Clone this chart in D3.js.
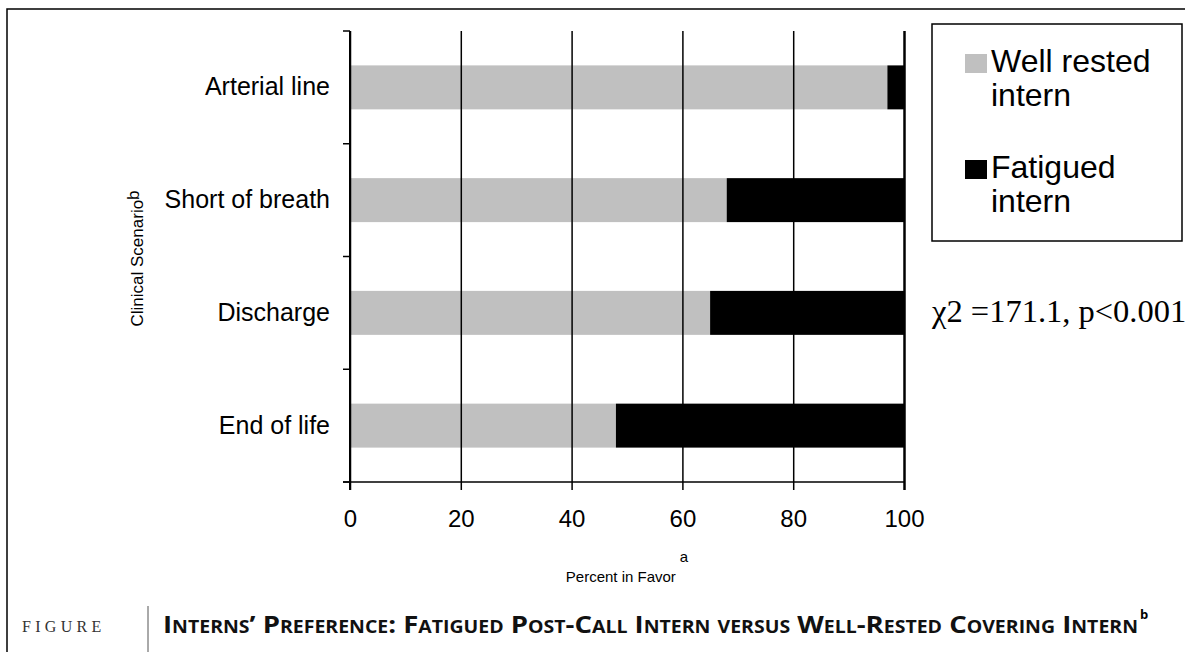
<!DOCTYPE html>
<html>
<head>
<meta charset="utf-8">
<script src="https://cdn.jsdelivr.net/npm/d3@7"></script>
<style>
  body { margin: 0; background: #fff; }
  svg { display: block; }
  .axis text { font-family: Arial, "Liberation Sans", sans-serif; fill: #000; }
</style>
</head>
<body>
<div id="chart"></div>
<script>
/**
 * DATA
 * */
const scenarios = ["Arterial line", "Short of breath", "Discharge", "End of life"];
const wellRested = [97, 68, 65, 48];
const fatigued = [3, 32, 35, 52];
const seriesNames = ["Well rested", "Fatigued"];
const xTicks = [0, 20, 40, 60, 80, 100];

/**
 * CONSTANTS
 * */
const width = 1185,
  height = 652,
  margin = { top: 31, left: 350, right: 281, bottom: 170 },
  colors = { "Well rested": "#c0c0c0", "Fatigued": "#000000" };

const svg = d3.select("#chart")
  .append("svg")
  .attr("width", width)
  .attr("height", height);

// outer frame (top and left only)
svg.append("path")
  .attr("d", `M7,${height} L7,9 L${width},9`)
  .attr("fill", "none")
  .attr("stroke", "#000")
  .attr("stroke-width", 1.5);

// SCALES
const xScale = d3.scaleLinear()
  .domain([0, 100])
  .range([margin.left, width - margin.right]);

const yScale = d3.scaleBand()
  .domain(scenarios)
  .range([margin.top, height - margin.bottom])
  .paddingInner(0.61)
  .paddingOuter(0.305);

const plotBottom = height - margin.bottom;

// stack the two series
const rows = scenarios.map((s, i) => ({ scenario: s, "Well rested": wellRested[i], "Fatigued": fatigued[i] }));
const stacked = d3.stack().keys(seriesNames)(rows);

// bars
svg.append("g")
  .selectAll("g")
  .data(stacked)
  .join("g")
  .attr("fill", d => colors[d.key])
  .selectAll("rect")
  .data(d => d)
  .join("rect")
  .attr("x", d => xScale(d[0]))
  .attr("width", d => xScale(d[1]) - xScale(d[0]))
  .attr("y", d => yScale(d.data.scenario))
  .attr("height", yScale.bandwidth());

// vertical gridlines + x ticks
const xAxis = d3.axisBottom(xScale)
  .tickValues(xTicks)
  .tickSize(8)
  .tickPadding(20)
  .tickFormat(d3.format("d"));

const gx = svg.append("g")
  .attr("class", "axis x-axis")
  .attr("transform", `translate(0,${plotBottom})`)
  .call(xAxis);
gx.select(".domain").remove();
gx.selectAll(".tick line")
  .attr("y1", -(plotBottom - margin.top))
  .attr("stroke", "#000")
  .attr("stroke-width", 1.5);
gx.selectAll(".tick text").attr("font-size", 24);
gx.selectAll(".tick")
  .filter(d => d === 100)
  .select("line")
  .attr("stroke-width", 2.5);

// x baseline
svg.append("line")
  .attr("x1", margin.left - 7)
  .attr("x2", xScale(100))
  .attr("y1", plotBottom)
  .attr("y2", plotBottom)
  .attr("stroke", "#000")
  .attr("stroke-width", 1.5);

// y axis: labels at band centres, ticks at band edges
const yAxis = d3.axisLeft(yScale).tickSize(0).tickPadding(20);
const gy = svg.append("g")
  .attr("class", "axis y-axis")
  .attr("transform", `translate(${margin.left},0)`)
  .call(yAxis);
gy.select(".domain").remove();
gy.selectAll(".tick text").attr("font-size", 25);

const edges = scenarios.map(s => yScale(s) - yScale.step() * yScale.paddingInner() / 2);
edges.push(plotBottom);
svg.append("g")
  .selectAll("line")
  .data(edges)
  .join("line")
  .attr("x1", margin.left - 7)
  .attr("x2", margin.left)
  .attr("y1", d => d)
  .attr("y2", d => d)
  .attr("stroke", "#000")
  .attr("stroke-width", 1.5);
svg.append("line")
  .attr("x1", margin.left)
  .attr("x2", margin.left)
  .attr("y1", margin.top)
  .attr("y2", plotBottom + 8)
  .attr("stroke", "#000")
  .attr("stroke-width", 2);

// axis titles
const xTitle = svg.append("text")
  .attr("x", xScale(50))
  .attr("y", 582)
  .attr("text-anchor", "middle")
  .attr("font-family", "Arial, 'Liberation Sans', sans-serif")
  .attr("font-size", 15)
  .text("Percent in Favor");
xTitle.append("tspan")
  .attr("dx", 4)
  .attr("dy", -20)
  .text("a");

const yTitle = svg.append("text")
  .attr("transform", `translate(143,${(margin.top + plotBottom) / 2 + 70}) rotate(-90)`)
  .attr("text-anchor", "start")
  .attr("font-family", "Arial, 'Liberation Sans', sans-serif")
  .attr("font-size", 17)
  .text("Clinical Scenario");
yTitle.append("tspan")
  .attr("dy", -4)
  .text("b");

// legend
const legend = svg.append("g");
legend.append("rect")
  .attr("x", 932)
  .attr("y", 24)
  .attr("width", 250)
  .attr("height", 217)
  .attr("fill", "#fff")
  .attr("stroke", "#000")
  .attr("stroke-width", 1.5);

const legendItems = legend.selectAll("g.item")
  .data(seriesNames)
  .join("g")
  .attr("class", "item")
  .attr("transform", (d, i) => `translate(965,${54 + i * 106})`);
legendItems.append("rect")
  .attr("width", 22)
  .attr("height", 19)
  .attr("fill", d => colors[d]);
legendItems.append("text")
  .attr("x", 26)
  .attr("y", 18)
  .attr("font-family", "Arial, 'Liberation Sans', sans-serif")
  .attr("font-size", 32)
  .text(d => d === "Well rested" ? "Well rested" : "Fatigued");
legendItems.append("text")
  .attr("x", 26)
  .attr("y", 52)
  .attr("font-family", "Arial, 'Liberation Sans', sans-serif")
  .attr("font-size", 32)
  .text("intern");

// statistic note
svg.append("text")
  .attr("x", 932)
  .attr("y", 322)
  .attr("font-family", "'Liberation Serif', 'Times New Roman', serif")
  .attr("font-size", 32.5)
  .text("χ2 =171.1, p<0.001");

// caption
svg.append("text")
  .attr("x", 22)
  .attr("y", 632)
  .attr("font-family", "'Liberation Serif', serif")
  .attr("font-size", 16)
  .attr("letter-spacing", 4.3)
  .attr("fill", "#333")
  .text("FIGURE");
svg.append("line")
  .attr("x1", 148)
  .attr("x2", 148)
  .attr("y1", 606)
  .attr("y2", height)
  .attr("stroke", "#555")
  .attr("stroke-width", 1);
const caption = svg.append("text")
  .attr("x", 163)
  .attr("y", 633)
  .attr("font-family", "'Open Sans', 'Noto Sans', sans-serif")
  .attr("font-weight", "bold")
  .attr("font-size", 24)
  .attr("font-variant", "small-caps")
  .attr("fill", "#111")
  .text("Interns’ Preference: Fatigued Post-Call Intern versus Well-Rested Covering Intern");
caption.attr("textLength", 975).attr("lengthAdjust", "spacingAndGlyphs");
svg.append("text")
  .attr("x", 163 + 977)
  .attr("y", 619)
  .attr("font-family", "'Open Sans', sans-serif")
  .attr("font-weight", "bold")
  .attr("font-size", 13)
  .text("b");
</script>
</body>
</html>
